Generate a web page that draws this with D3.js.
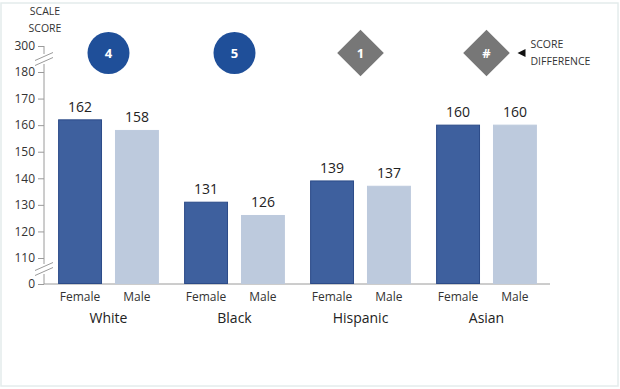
<!DOCTYPE html>
<html>
<head>
<meta charset="utf-8">
<script src="https://cdn.jsdelivr.net/npm/d3@7"></script>
<style>
  body { margin: 0; background: #fff; }
  text { font-family: "Open Sans", sans-serif; }
</style>
</head>
<body>
<div id="chart"></div>
<script>
const groups = ["White", "Black", "Hispanic", "Asian"]
const genders = ["Female", "Male"]
const female = [162, 131, 139, 160]
const male = [158, 126, 137, 160]
const diffs = ["4", "5", "1", "#"]
const significant = [true, true, false, false]
const tickValues = [0, 110, 120, 130, 140, 150, 160, 170, 180, 300]

const width = 620, height = 389
const svg = d3.select("#chart").append("svg").attr("width", width).attr("height", height)

svg.append("rect").attr("x", 1).attr("y", 3).attr("width", 617).attr("height", 383)
  .attr("fill", "none").attr("stroke", "#e4ecec").attr("stroke-width", 1.5)

// broken axis: 0 .. 110 and 180 .. 300 compressed
const y = d3.scaleLinear().domain([0, 110, 180, 300]).range([284, 258, 72, 46])
const x0 = d3.scaleBand().domain(groups).range([45.5, 549.5]).paddingInner(0.2).paddingOuter(0.1)
const x1 = d3.scaleBand().domain(genders).range([0, x0.bandwidth()]).paddingInner(0.228)

const axisX = 44
const yAxis = svg.append("g").attr("transform", `translate(${axisX},0)`)
  .call(d3.axisLeft(y).tickValues(tickValues).tickSize(6).tickPadding(3))
yAxis.select(".domain").remove()
yAxis.selectAll("line").attr("stroke", "#9a9a9a")
yAxis.selectAll("text").attr("font-size", 12).attr("fill", "#333").attr("font-family", "Open Sans")

// axis line with breaks
const axisCol = "#9a9a9a"
svg.append("line").attr("x1", axisX).attr("x2", axisX).attr("y1", y(300)).attr("y2", y(300) + 8).attr("stroke", axisCol)
svg.append("line").attr("x1", axisX).attr("x2", axisX).attr("y1", y(180) - 8).attr("y2", y(0)).attr("stroke", axisCol)
svg.append("line").attr("x1", axisX).attr("x2", 550).attr("y1", y(0)).attr("y2", y(0)).attr("stroke", axisCol)
svg.append("rect").attr("x", axisX - 2).attr("y", 264).attr("width", 4).attr("height", 10).attr("fill", "#fff")
;[[y(300) + 9, y(180) - 9], [265, 273]].forEach(([a, b]) => {
  const mid = (a + b) / 2
  ;[-2.5, 2.5].forEach(off => {
    svg.append("line").attr("x1", axisX - 9).attr("x2", axisX + 9)
      .attr("y1", mid + off + 4).attr("y2", mid + off - 4)
      .attr("stroke", axisCol)
  })
})

svg.append("text").attr("x", 45).attr("y", 15).attr("text-anchor", "middle").attr("font-size", 10.5).attr("fill", "#333").text("SCALE")
svg.append("text").attr("x", 45).attr("y", 32).attr("text-anchor", "middle").attr("font-size", 10.5).attr("fill", "#333").text("SCORE")

const colors = { Female: "#3e609e", Male: "#bdcadd" }
const strokes = { Female: "#2c4b88", Male: "#bdcadd" }

groups.forEach((g, i) => {
  const vals = { Female: female[i], Male: male[i] }
  const gx = x0(g)
  genders.forEach(s => {
    const bx = gx + x1(s)
    svg.append("rect").attr("x", bx + 0.5).attr("y", y(vals[s]))
      .attr("width", x1.bandwidth() - 1).attr("height", y(0) - y(vals[s]) - 0.5)
      .attr("fill", colors[s]).attr("stroke", strokes[s])
    svg.append("text").attr("x", bx + x1.bandwidth() / 2).attr("y", y(vals[s]) - 8)
      .attr("text-anchor", "middle").attr("font-size", 14).attr("fill", "#222").text(vals[s])
    svg.append("text").attr("x", bx + x1.bandwidth() / 2).attr("y", 301)
      .attr("text-anchor", "middle").attr("font-size", 12).attr("fill", "#333").text(s)
  })
  const cx = gx + x0.bandwidth() / 2
  svg.append("text").attr("x", cx).attr("y", 323).attr("text-anchor", "middle")
    .attr("font-size", 14).attr("fill", "#222").text(g)

  const cy = 53
  if (significant[i]) {
    svg.append("circle").attr("cx", cx).attr("cy", cy).attr("r", 21).attr("fill", "#1f4f99")
  } else {
    svg.append("rect").attr("x", cx - 16.5).attr("y", cy - 16.5).attr("width", 33).attr("height", 33)
      .attr("fill", "#777").attr("transform", `rotate(45,${cx},${cy})`)
  }
  svg.append("text").attr("x", cx).attr("y", cy + 5).attr("text-anchor", "middle")
    .attr("font-size", 13).attr("font-weight", "bold").attr("fill", "#fff").text(diffs[i])
})

const lastCx = x0("Asian") + x0.bandwidth() / 2
svg.append("path").attr("d", `M${lastCx + 31},53 L${lastCx + 39},49 L${lastCx + 39},57 Z`).attr("fill", "#111")
svg.append("text").attr("x", lastCx + 44).attr("y", 48).attr("font-size", 10.5).attr("fill", "#333").text("SCORE")
svg.append("text").attr("x", lastCx + 44).attr("y", 65).attr("font-size", 10.5).attr("fill", "#333").text("DIFFERENCE")
</script>
</body>
</html>
